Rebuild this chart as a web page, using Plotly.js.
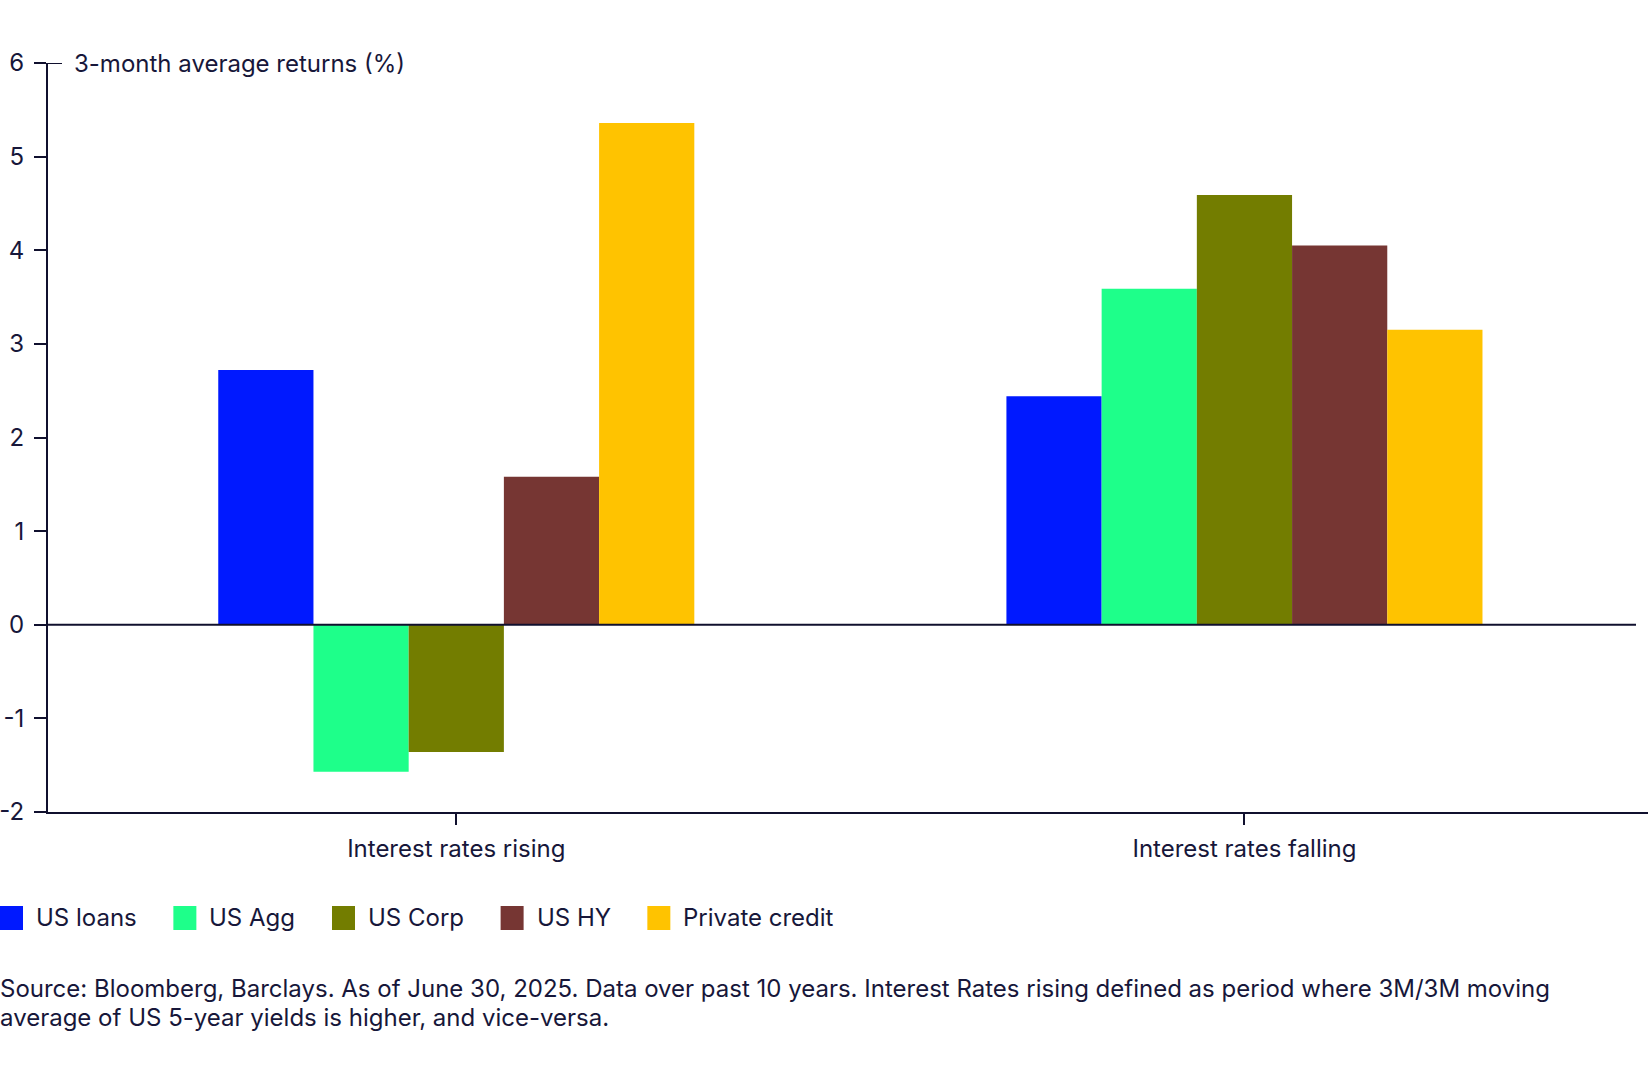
<!DOCTYPE html>
<html>
<head>
<meta charset="utf-8">
<script src="https://cdn.plot.ly/plotly-3.0.1.min.js"></script>
<style>
  html, body { margin: 0; padding: 0; background: #ffffff; }
  #chart { width: 1648px; height: 1080px; }
</style>
</head>
<body>
<div id="chart"></div>
<script>
const categories = ["Interest rates rising", "Interest rates falling"];
const seriesNames = ["US loans", "US Agg", "US Corp", "US HY", "Private credit"];
const seriesColors = ["#0019ff", "#1eff8a", "#737d00", "#763633", "#ffc300"];
const usLoans = [2.72, 2.44];
const usAgg = [-1.57, 3.59];
const usCorp = [-1.36, 4.59];
const usHy = [1.58, 4.05];
const privateCredit = [5.36, 3.15];
const seriesValues = [usLoans, usAgg, usCorp, usHy, privateCredit];
const yTicks = [-2, -1, 0, 1, 2, 3, 4, 5, 6];
const yTickText = yTicks.map((v) => String(v)); // plain hyphen, as in the reference

const axisTitle = "3-month average returns (%)";
const sourceLines = [
  "Source: Bloomberg, Barclays. As of June 30, 2025. Data over past 10 years. Interest Rates rising defined as period where 3M/3M moving",
  "average of US 5-year yields is higher, and vice-versa.",
];

const W = 1648;
const H = 1080;
const M = { l: 48, r: 0, t: 63, b: 268 };
const plotW = W - M.l - M.r;
const plotH = H - M.t - M.b;
const ink = "#17173a";
const lineInk = "#10102e";
const FONT = "Inter, 'Noto Sans', sans-serif";
const FS = 24;

// pixel -> paper helpers
const px = (x) => (x - M.l) / plotW;
const py = (y) => (H - M.b - y) / plotH;

const traces = seriesNames.map((name, i) => ({
  type: "bar",
  name,
  x: categories,
  y: seriesValues[i],
  marker: { color: seriesColors[i], line: { width: 0 } },
  showlegend: false,
  hoverinfo: "x+y+name",
}));

// legend drawn as shapes + annotations so swatches match the reference size
const measure = document.createElement("canvas").getContext("2d");
measure.font = `${FS}px Inter`;
const shapes = [];
const annotations = [];
let lx = 0;
const sw = 23;
seriesNames.forEach((name, i) => {
  shapes.push({
    type: "rect", xref: "paper", yref: "paper",
    x0: px(lx), x1: px(lx + sw), y0: py(930), y1: py(906),
    fillcolor: seriesColors[i], line: { width: 0 },
  });
  annotations.push({
    xref: "paper", yref: "paper", x: px(lx + sw + 11), y: py(918),
    xanchor: "left", yanchor: "middle", showarrow: false,
    text: name, font: { family: FONT, size: FS, color: ink },
  });
  lx += sw + 13 + measure.measureText(name).width + 36.6;
});

// zero line, stops short of the right edge
shapes.push({
  type: "line", xref: "paper", yref: "y",
  x0: 0, x1: px(1636), y0: 0, y1: 0,
  line: { color: lineInk, width: 2 },
});
// cap at the top of the y axis
shapes.push({
  type: "line", xref: "paper", yref: "y",
  x0: 0, x1: px(62), y0: 6, y1: 6,
  line: { color: lineInk, width: 2 },
});

annotations.push({
  xref: "paper", yref: "y", x: px(72), y: 6,
  xanchor: "left", yanchor: "middle", showarrow: false,
  text: axisTitle, font: { family: FONT, size: FS, color: ink },
});
sourceLines.forEach((line, i) => {
  annotations.push({
    xref: "paper", yref: "paper", x: px(-2), y: py(988 + i * 29.5),
    xanchor: "left", yanchor: "middle", align: "left", showarrow: false,
    text: line, font: { family: FONT, size: FS, color: ink },
  });
});

const layout = {
  width: W,
  height: H,
  margin: M,
  paper_bgcolor: "#ffffff",
  plot_bgcolor: "#ffffff",
  font: { family: FONT, size: FS, color: ink },
  barmode: "group",
  bargap: 0.396,
  bargroupgap: 0,
  showlegend: false,
  xaxis: {
    type: "category",
    range: [-0.518, 1.512],
    showgrid: false,
    zeroline: false,
    showline: true,
    linecolor: lineInk,
    linewidth: 2,
    ticks: "outside",
    ticklen: 11,
    tickwidth: 2,
    tickcolor: lineInk,
    ticklabelstandoff: 3,
    tickfont: { family: FONT, size: FS, color: ink },
  },
  yaxis: {
    range: [-2, 6],
    tickmode: "array",
    tickvals: yTicks,
    ticktext: yTickText,
    showgrid: false,
    zeroline: false,
    showline: true,
    linecolor: lineInk,
    linewidth: 2,
    ticks: "outside",
    ticklen: 12,
    tickwidth: 2,
    tickcolor: lineInk,
    ticklabelstandoff: 5,
    tickfont: { family: FONT, size: FS, color: ink },
  },
  shapes,
  annotations,
};

Plotly.newPlot("chart", traces, layout, { displayModeBar: false, responsive: false });
</script>
</body>
</html>
